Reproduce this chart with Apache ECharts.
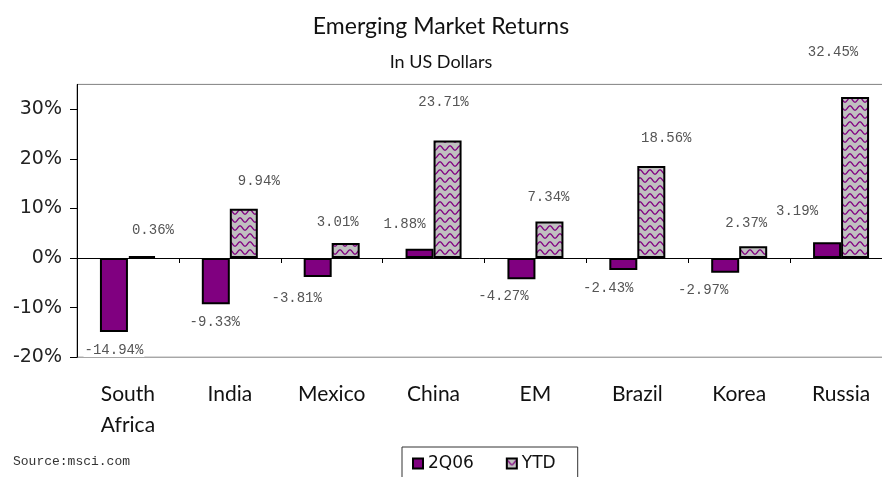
<!DOCTYPE html>
<html>
<head>
<meta charset="utf-8">
<script src="https://cdn.jsdelivr.net/npm/echarts@6/dist/echarts.min.js"></script>
<style>
html,body{margin:0;padding:0;background:#fff;}
#chart{width:882px;height:477px;}
</style>
</head>
<body>
<div id="chart"></div>
<script>
// ---- data ----
const categories = ['South\nAfrica', 'India', 'Mexico', 'China', 'EM', 'Brazil', 'Korea', 'Russia'];
const seriesNames = ['2Q06', 'YTD'];
const q2Values = [-14.94, -9.33, -3.81, 1.88, -4.27, -2.43, -2.97, 3.19];
const ytdValues = [0.36, 9.94, 3.01, 23.71, 7.34, 18.56, 2.37, 32.45];
const yTicks = [-20, -10, 0, 10, 20, 30];

// ---- label nudges (style only) ----
const q2LabelOffsets = [[0, 11], [-1, 11], [-21, 14], [-15, -17], [-18, 10], [-15, 11], [-22, 11], [-30, -24]];
const ytdLabelOffsets = [[11, -19], [15, -20], [-8, -14], [-4, -31], [-1, -17], [15, -21], [-7, -16], [-22, -38]];

function makePattern() {
  const c = document.createElement('canvas');
  c.width = 10; c.height = 8;
  const ctx = c.getContext('2d');
  ctx.fillStyle = '#c0c0c0';
  ctx.fillRect(0, 0, 10, 8);
  ctx.strokeStyle = '#800080';
  ctx.lineWidth = 1.3;
  ctx.beginPath();
  for (let x = -1; x <= 11; x += 0.5) {
    const y = 4 - 2.2 * Math.cos(2 * Math.PI * x / 10);
    if (x === -1) ctx.moveTo(x, y); else ctx.lineTo(x, y);
  }
  ctx.stroke();
  return c;
}

const labelBase = {
  show: true,
  distance: 0,
  fontFamily: 'Liberation Mono',
  fontSize: 14,
  lineHeight: 14,
  color: '#555',
  backgroundColor: '#fff',
  padding: [0, 1],
  formatter: p => p.value.toFixed(2) + '%'
};

function buildData(values, offsets) {
  return values.map((v, i) => ({
    value: v,
    label: { position: v >= 0 ? 'top' : 'bottom', offset: offsets[i] }
  }));
}

const chart = echarts.init(document.getElementById('chart'));
chart.setOption({
  animation: false,
  backgroundColor: '#fff',
  title: [
    { text: 'Emerging Market Returns', left: 'center', top: 10,
      textStyle: { fontFamily: 'Lato', fontSize: 23, fontWeight: 'normal', color: '#111' } },
    { text: 'In US Dollars', left: 'center', top: 48,
      textStyle: { fontFamily: 'Lato', fontSize: 18, fontWeight: 'normal', color: '#111' } },
    { text: 'Source:msci.com', left: 8, top: 450,
      textStyle: { fontFamily: 'Liberation Mono', fontSize: 13, fontWeight: 'normal', color: '#333' } }
  ],
  legend: {
    data: seriesNames,
    left: 402, top: 447,
    itemWidth: 10, itemHeight: 10, itemGap: 32,
    icon: 'rect',
    borderColor: '#333', borderWidth: 1,
    padding: [8, 22, 20, 10],
    textStyle: { fontFamily: 'DejaVu Sans', fontSize: 17, color: '#111' }
  },
  grid: {
    left: 77, width: 815, top: 84.4, bottom: 119.8,
    outerBoundsMode: 'none',
    containLabel: false,
    show: true, borderColor: '#808080', borderWidth: 1
  },
  xAxis: [
    {
      type: 'category', data: categories, position: 'bottom',
      axisLine: { onZero: true, lineStyle: { color: '#000', width: 1 } },
      axisTick: { show: true, length: 5, lineStyle: { color: '#000' } },
      axisLabel: { show: false }
    },
    {
      type: 'category', data: categories, position: 'bottom',
      axisLine: { show: false, onZero: false },
      axisTick: { show: false },
      axisLabel: { fontFamily: 'Lato', fontSize: 21, color: '#111', lineHeight: 31, margin: 22 }
    }
  ],
  yAxis: {
    type: 'value', min: -20, max: 35, interval: 10,
    axisLine: { show: true, lineStyle: { color: '#000', width: 1 } },
    axisTick: { show: true, length: 7, customValues: yTicks, lineStyle: { color: '#000' } },
    axisLabel: { customValues: yTicks, formatter: v => v + '%', fontFamily: 'DejaVu Sans', fontSize: 19, color: '#222', margin: 15 },
    splitLine: { show: false }
  },
  series: [
    {
      name: seriesNames[0], type: 'bar', xAxisIndex: 0,
      data: buildData(q2Values, q2LabelOffsets),
      barWidth: 28, barGap: '0%',
      itemStyle: { color: '#800080', borderColor: '#000', borderWidth: 2 },
      label: labelBase
    },
    {
      name: seriesNames[1], type: 'bar', xAxisIndex: 0,
      data: buildData(ytdValues, ytdLabelOffsets),
      barWidth: 28, barGap: '0%',
      itemStyle: { color: { image: makePattern(), repeat: 'repeat' }, borderColor: '#000', borderWidth: 2 },
      label: labelBase
    }
  ]
});
</script>
</body>
</html>
